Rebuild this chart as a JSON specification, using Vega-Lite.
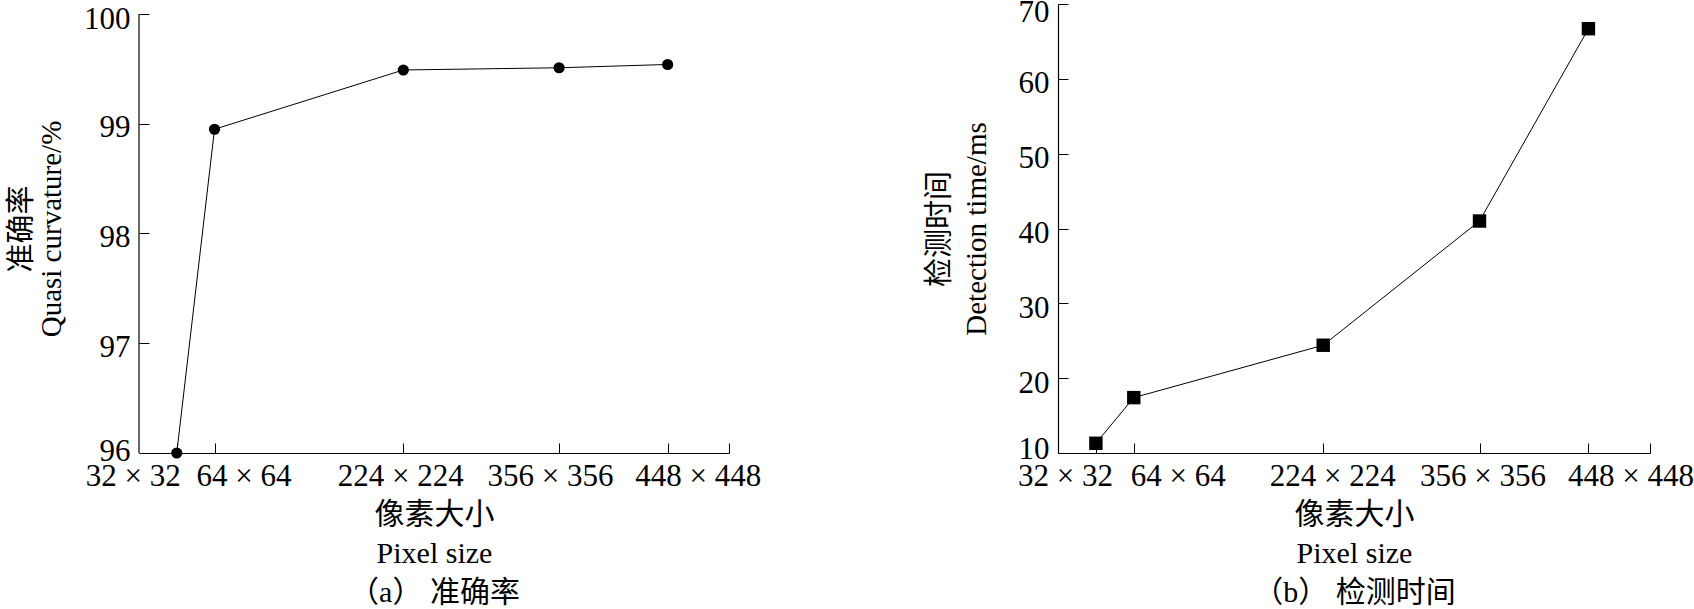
{
  "$schema": "https://vega.github.io/schema/vega-lite/v6.json",
  "autosize": {"type": "none"},
  "padding": {"left": 139, "top": 4, "right": 1555, "bottom": 605},
  "background": "white",
  "spacing": 164,
  "config": {
    "view": {"stroke": null},
    "font": "Liberation Serif, Noto Sans CJK SC",
    "axis": {
      "grid": false,
      "domainColor": "#000000",
      "domainWidth": 1.2,
      "tickColor": "#000000",
      "tickWidth": 1,
      "tickSize": -10,
      "labelColor": "#000000",
      "labelFontSize": 31,
      "titleColor": "#000000",
      "titleFontWeight": "normal",
      "titleFontSize": 29,
      "labelOverlap": false,
      "labelFlush": false
    }
  },
  "hconcat": [
    {
      "width": 590,
      "height": 449,
      "data": {"values": [
        {"size": 32, "acc": 96.0},
        {"size": 64, "acc": 98.95},
        {"size": 224, "acc": 99.49},
        {"size": 356, "acc": 99.51},
        {"size": 448, "acc": 99.54}
      ]},
      "encoding": {
        "x": {
          "field": "size", "type": "quantitative",
          "scale": {"domain": [0, 500], "nice": false},
          "axis": {
            "values": [32, 64, 224, 356, 448, 500],
            "labelExpr": "datum.value == 500 ? '' : datum.value + ' × ' + datum.value",
            "labelPadding": 18,
            "labelOffset": {"condition": [
              {"test": "datum.value == 32", "value": -44},
              {"test": "datum.value == 64", "value": 29},
              {"test": "datum.value == 224", "value": -3},
              {"test": "datum.value == 356", "value": -9},
              {"test": "datum.value == 448", "value": 30}
            ], "value": 0},
            "title": ["像素大小", "Pixel size", "（a） 准确率"],
            "titleFontSize": 30,
            "titleLineHeight": 39,
            "titlePadding": 8
          }
        },
        "y": {
          "field": "acc", "type": "quantitative",
          "scale": {"domain": [96, 100.0911], "nice": false, "zero": false},
          "axis": {
            "values": [96, 97, 98, 99, 100],
            "domain": false,
            "labelPadding": 19,
            "labelOffset": {"condition": [
              {"test": "datum.value == 96", "value": -2},
              {"test": "datum.value == 100", "value": 6}
            ], "value": 4},
            "title": ["准确率", "Quasi curvature/%"],
            "titleLineHeight": 30,
            "titlePadding": 17
          }
        }
      },
      "layer": [
        {
          "data": {"values": [{"x0": 0, "lo": 96, "hi": 100}]},
          "mark": {"type": "rule", "color": "#000000", "strokeWidth": 1.2},
          "encoding": {
            "x": {"field": "x0", "type": "quantitative"},
            "y": {"field": "lo", "type": "quantitative"},
            "y2": {"field": "hi"}
          }
        },
        {"mark": {"type": "line", "color": "#000000", "strokeWidth": 1}},
        {"mark": {"type": "point", "shape": "circle", "filled": true, "color": "#000000", "opacity": 1, "size": 125}}
      ]
    },
    {
      "width": 592,
      "height": 449,
      "data": {"values": [
        {"size": 32, "time": 11.3},
        {"size": 64, "time": 17.4},
        {"size": 224, "time": 24.4},
        {"size": 356, "time": 41.0},
        {"size": 448, "time": 66.7}
      ]},
      "encoding": {
        "x": {
          "field": "size", "type": "quantitative",
          "scale": {"domain": [0, 500], "nice": false},
          "axis": {
            "values": [32, 64, 224, 356, 448, 500],
            "labelExpr": "datum.value == 500 ? '' : datum.value + ' × ' + datum.value",
            "labelPadding": 18,
            "labelOffset": {"condition": [
              {"test": "datum.value == 32", "value": -31},
              {"test": "datum.value == 64", "value": 44},
              {"test": "datum.value == 224", "value": 9},
              {"test": "datum.value == 356", "value": 3},
              {"test": "datum.value == 448", "value": 42}
            ], "value": 0},
            "title": ["像素大小", "Pixel size", "（b） 检测时间"],
            "titleFontSize": 30,
            "titleLineHeight": 39,
            "titlePadding": 8
          }
        },
        "y": {
          "field": "time", "type": "quantitative",
          "scale": {"domain": [10, 70], "nice": false, "zero": false},
          "axis": {
            "values": [10, 20, 30, 40, 50, 60, 70],
            "labelPadding": 19,
            "labelOffset": {"condition": [
              {"test": "datum.value == 10", "value": -4},
              {"test": "datum.value == 70", "value": 8}
            ], "value": 5},
            "title": ["检测时间", "Detection time/ms"],
            "titleLineHeight": 37,
            "titlePadding": 27
          }
        }
      },
      "layer": [
        {"mark": {"type": "line", "color": "#000000", "strokeWidth": 1}},
        {"mark": {"type": "point", "shape": "square", "filled": true, "color": "#000000", "opacity": 1, "size": 180}}
      ]
    }
  ]
}
